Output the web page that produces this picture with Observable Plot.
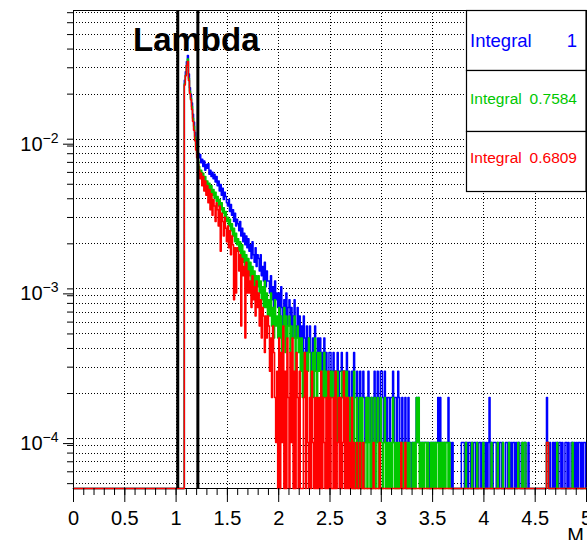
<!DOCTYPE html>
<html><head><meta charset="utf-8">
<script src="https://cdn.jsdelivr.net/npm/d3@7"></script>
<script src="https://cdn.jsdelivr.net/npm/@observablehq/plot@0.6"></script>
<style>
html,body{margin:0;padding:0;background:#fff;}
#chart{width:587px;height:540px;overflow:hidden;}
</style></head><body><div id="chart"></div>
<script>
// ---- data -------------------------------------------------------------
const BIN_START = 108;      // first filled bin, in hundredths of M (1.08)
const UNIT = 9.4e-5;        // weight of one entry (histograms normalised)
const Y_MIN = 4.64e-5, Y_MAX = 0.0724;
const X_MIN = 0, X_MAX = 5;
const windowEdges = [1.016, 1.212];
const majorXTicks = [0, 0.5, 1, 1.5, 2, 2.5, 3, 3.5, 4, 4.5, 5];
const gridX = [0.5, 1, 1.5, 2, 2.5, 3, 3.5, 4, 4.5];
const majorYTicks = [1e-4, 1e-3, 1e-2];
const yMantissas = [1, 2, 3, 4, 5, 6, 7, 8, 9];
const yDecades = [1e-5, 1e-4, 1e-3, 1e-2];
const titleText = "Lambda";
const axisTitle = "M";
const legendNames = ["Integral", "Integral", "Integral"];
const legendValues = ["1", "0.7584", "0.6809"];
const seriesColors = ["#0000ff", "#00c800", "#ff0000"];

const blueCounts = [263, 300,
350, 386, 290, 235, 212, 186, 156, 138, 118, 104,
92, 86, 80, 84, 74, 78, 70, 76, 66, 72,
68, 73, 62, 66, 60, 64, 58, 62, 55, 60,
52, 56, 48, 53, 45, 50, 42, 47, 44, 40,
38, 42, 35, 39, 33, 36, 30, 34, 28, 31,
29, 26, 30, 24, 27, 22, 25, 21, 24, 20,
23, 19, 21, 17, 22, 18, 16, 20, 15, 18,
17, 14, 18, 13, 15, 12, 16, 11, 14, 12,
12, 10, 13, 9, 11, 8, 12, 9, 10, 8,
10, 7, 11, 8, 6, 9, 7, 10, 6, 8,
9, 6, 8, 5, 7, 9, 5, 6, 8, 5,
7, 5, 6, 4, 7, 5, 3, 6, 4, 5,
6, 4, 3, 5, 4, 6, 3, 4, 5, 3,
5, 3, 4, 2, 5, 3, 4, 2, 3, 4,
4, 2, 3, 4, 2, 3, 1, 4, 2, 3,
3, 4, 2, 3, 3, 2, 4, 2, 3, 1,
2, 3, 1, 4, 2, 2, 3, 1, 2, 3,
1, 2, 3, 2, 1, 2, 1, 3, 2, 1,
2, 1, 2, 3, 1, 2, 3, 2, 1, 3,
3, 2, 1, 3, 2, 1, 2, 2, 1, 2,
2, 3, 1, 2, 2, 1, 3, 2, 1, 1,
2, 1, 1, 2, 0, 1, 2, 1, 1, 0,
1, 1, 1, 1, 2, 1, 2, 1, 1, 1,
1, 1, 1, 1, 1, 1, 1, 0, 1, 1,
1, 1, 1, 1, 1, 2, 1, 2, 1, 1,
1, 1, 1, 1, 1, 2, 1, 1, 0, 1,
0, 0, 0, 0, 0, 0, 0, 0, 1, 1,
1, 0, 1, 1, 0, 1, 1, 0, 1, 0,
1, 1, 0, 1, 0, 1, 1, 0, 1, 1,
1, 0, 1, 0, 1, 2, 0, 1, 0, 1,
1, 1, 0, 1, 0, 1, 1, 0, 1, 0,
0, 1, 1, 0, 1, 0, 1, 0, 1, 1,
0, 1, 0, 1, 1, 0, 0, 1, 0, 1,
1, 0, 0, 1, 0, 0, 0, 0, 0, 0,
0, 0, 0, 0, 0, 0, 0, 0, 0, 0,
0, 2, 1, 0, 1, 0, 0, 1, 0, 1,
0, 1, 0, 1, 1, 0, 1, 0, 0, 1,
1, 0, 1, 0, 0, 1, 1, 0, 1, 0,
1, 0, 1, 1, 0, 1, 0, 1, 1, 0];

const greenCounts = [250, 285,
330, 365, 272, 222, 200, 176, 147, 130, 110, 97,
84, 76, 70, 62, 66, 58, 63, 55, 60, 52,
56, 50, 54, 47, 52, 45, 49, 43, 47, 41,
44, 38, 42, 36, 40, 34, 37, 32, 35, 30,
32, 28, 31, 26, 29, 24, 27, 22, 25, 21,
23, 19, 22, 17, 21, 16, 19, 15, 18, 14,
17, 13, 16, 12, 15, 11, 14, 10, 13, 11,
13, 10, 12, 9, 11, 8, 12, 8, 10, 7,
9, 7, 10, 6, 8, 5, 9, 6, 7, 5,
8, 5, 7, 4, 6, 8, 4, 7, 5, 6,
7, 4, 6, 5, 5, 7, 3, 5, 6, 4,
5, 3, 5, 2, 4, 4, 2, 4, 3, 5,
4, 2, 3, 4, 2, 5, 3, 2, 4, 3,
4, 3, 3, 2, 4, 2, 3, 2, 3, 2,
3, 2, 3, 2, 2, 3, 1, 3, 2, 2,
2, 3, 2, 3, 3, 2, 3, 2, 2, 1,
2, 2, 0, 3, 0, 1, 2, 0, 1, 2,
0, 2, 1, 0, 1, 2, 0, 2, 1, 0,
2, 0, 1, 2, 0, 1, 2, 0, 1, 2,
1, 0, 1, 2, 0, 1, 0, 1, 0, 1,
0, 2, 1, 0, 1, 0, 1, 0, 1, 1,
1, 0, 1, 1, 0, 1, 0, 1, 0, 0,
1, 0, 1, 0, 2, 1, 2, 0, 1, 0,
1, 0, 1, 1, 0, 1, 0, 0, 1, 0,
1, 0, 1, 0, 1, 1, 0, 1, 0, 1,
0, 1, 0, 1, 1, 0, 1, 0, 0, 0,
0, 0, 0, 0, 0, 0, 0, 0, 0, 0,
0, 0, 1, 0, 0, 0, 0, 0, 1, 0,
0, 0, 0, 1, 0, 0, 0, 0, 0, 1,
0, 0, 0, 0, 0, 0, 0, 1, 0, 0,
0, 0, 0, 1, 0, 0, 0, 0, 1, 0,
0, 0, 0, 0, 1, 0, 0, 0, 0, 0,
0, 0, 0, 1, 0, 0, 0, 1, 0, 1,
1, 0, 0, 0, 0, 0, 0, 0, 0, 0,
0, 0, 0, 0, 0, 0, 0, 0, 0, 0,
0, 1, 1, 0, 0, 0, 0, 0, 0, 0,
0, 1, 0, 0, 0, 0, 0, 0, 0, 0,
0, 0, 0, 0, 0, 0, 1, 0, 0, 0,
0, 0, 0, 0, 0, 0, 0, 0, 0, 0];

const redCounts = [245, 282,
330, 352, 262, 215, 195, 168, 140, 122, 104, 90,
80, 72, 66, 58, 63, 52, 60, 48, 56, 45,
52, 40, 49, 36, 46, 33, 42, 38, 30, 40,
36, 28, 38, 19, 34, 30, 24, 32, 27, 22,
28, 20, 26, 18, 24, 21, 9, 20, 10, 20,
19, 14, 18, 6, 17, 13, 15, 5, 16, 10,
14, 10, 12, 8, 13, 9, 11, 7, 12, 8,
10, 6, 9, 5, 8, 7, 4, 7, 5, 7,
6, 3, 5, 2, 6, 4, 2, 1, 3, 0,
5, 0, 4, 1, 6, 0, 3, 0, 5, 2,
0, 4, 1, 5, 0, 3, 0, 4, 2, 0,
3, 0, 0, 0, 2, 4, 0, 3, 1, 0,
2, 0, 3, 1, 0, 2, 0, 2, 0, 2,
0, 3, 0, 2, 1, 0, 2, 0, 3, 0,
2, 0, 0, 2, 0, 3, 0, 1, 2, 0,
2, 0, 1, 3, 0, 2, 0, 2, 0, 1,
0, 2, 0, 1, 0, 0, 1, 0, 0, 1,
0, 0, 1, 0, 0, 0, 0, 0, 0, 0,
0, 0, 1, 0, 0, 0, 0, 0, 1, 0,
0, 0, 0, 0, 0, 0, 0, 0, 0, 0,
0, 0, 0, 0, 0, 0, 0, 0, 0, 1,
0, 0, 0, 1, 0, 0, 0, 0, 0, 0,
0, 0, 0, 0, 0, 0, 0, 0, 0, 0,
0, 0, 0, 0, 0, 0, 0, 0, 0, 0,
0, 0, 0, 0, 0, 0, 0, 0, 0, 0,
0, 0, 0, 0, 0, 0, 0, 0, 0, 0,
0, 0, 0, 0, 0, 0, 0, 0, 0, 0,
0, 0, 0, 0, 0, 0, 0, 0, 0, 0,
0, 0, 0, 0, 0, 0, 0, 0, 0, 0,
0, 0, 0, 0, 0, 0, 0, 0, 0, 0,
0, 0, 0, 0, 0, 0, 0, 0, 0, 0,
0, 0, 0, 0, 0, 0, 0, 0, 0, 0,
0, 0, 0, 0, 0, 0, 0, 0, 0, 0,
0, 0, 0, 0, 0, 0, 0, 0, 0, 0,
0, 0, 0, 0, 0, 0, 0, 0, 0, 0,
0, 1, 1, 0, 0, 0, 0, 0, 0, 0,
0, 0, 0, 0, 0, 0, 0, 0, 0, 0,
0, 0, 0, 0, 0, 0, 0, 0, 0, 0,
0, 0, 0, 0, 0, 0, 0, 0, 0, 0];

// ---- build step series ---------------------------------------------------
function stepSeries(counts) {
  const val = c => (c > 0 ? c * UNIT : Y_MIN);
  const pts = [{x: X_MIN, y: Y_MIN}];
  counts.forEach((c, i) => pts.push({x: (BIN_START + i) / 100, y: val(c)}));
  pts.push({x: X_MAX, y: val(counts[counts.length - 1])});
  return pts;
}
const minorXTicks = d3.range(0, 51).map(i => i / 10);
const minorYTicks = yDecades.flatMap(d => yMantissas.map(m => m * d))
  .filter(v => v >= Y_MIN && v <= Y_MAX);

const FONT = "'Liberation Sans', Arial, Helvetica, sans-serif";
const lineOpts = color => ({x: "x", y: "y", curve: "step-after", stroke: color,
  strokeWidth: 1.5});
const gridOpts = {stroke: "black", strokeWidth: 1, strokeDasharray: "1,2", shapeRendering: "crispEdges"};

const svg = Plot.plot({
  width: 587, height: 540,
  marginLeft: 73, marginRight: 1, marginTop: 10, marginBottom: 52,
  style: {fontFamily: FONT, background: "white", color: "black"},
  x: {domain: [X_MIN, X_MAX]},
  y: {type: "log", domain: [Y_MIN, Y_MAX]},
  marks: [
    Plot.ruleY(minorYTicks, gridOpts),
    Plot.ruleX(gridX, gridOpts),
    Plot.frame({stroke: "black", strokeWidth: 1}),
    Plot.line(stepSeries(blueCounts), lineOpts(seriesColors[0])),
    Plot.line(stepSeries(greenCounts), lineOpts(seriesColors[1])),
    Plot.line(stepSeries(redCounts), lineOpts(seriesColors[2])),
    Plot.ruleX(windowEdges, {stroke: "black", strokeWidth: 3}),
    Plot.axisX({ticks: minorXTicks, tickSize: 7, tickFormat: () => "", label: null}),
    Plot.axisX({ticks: majorXTicks, tickSize: 14, tickPadding: 8, fontSize: 20, label: null,
      tickFormat: d => String(d)}),
    Plot.axisY({ticks: minorYTicks, tickSize: 6, tickFormat: () => "", label: null}),
    Plot.axisY({ticks: majorYTicks, tickSize: 10, tickPadding: 5, fontSize: 20, dy: 5, label: null,
      tickFormat: d => "10^" + Math.round(Math.log10(d))})
  ]
});

// superscript exponent labels
d3.select(svg).selectAll("text").each(function() {
  const t = this.textContent;
  const m = /^10\^(-?\d+)$/.exec(t);
  if (!m) return;
  const sel = d3.select(this);
  sel.text(null);
  sel.append("tspan").text("10");
  sel.append("tspan").attr("dy", -8).attr("font-size", 14).text(m[1].replace("-", "\u2212"));
});

const s = d3.select(svg);
// title
s.append("text").attr("x", 133).attr("y", 51).attr("text-anchor", "start").attr("font-family", FONT)
  .attr("font-weight", "bold").attr("font-size", 33).attr("fill", "black").text(titleText);
// axis title
s.append("text").attr("x", 584).attr("y", 542).attr("text-anchor", "end")
  .attr("font-family", FONT).attr("font-size", 20).attr("fill", "black").text(axisTitle);
// stats boxes
const boxes = [
  {y0: 10, y1: 70, base: 47, fs: 18.5},
  {y0: 70, y1: 131, base: 104, fs: 15.5},
  {y0: 131, y1: 191, base: 163, fs: 15.5}
];
const lg = s.append("g");
boxes.forEach((b, i) => {
  lg.append("rect").attr("x", 466.5).attr("y", b.y0 + 0.5).attr("width", 119.5)
    .attr("height", b.y1 - b.y0).attr("fill", "white").attr("stroke", "black").attr("stroke-width", 1.2);
  lg.append("text").attr("x", 470).attr("y", b.base).attr("text-anchor", "start").attr("font-family", FONT)
    .attr("font-size", b.fs).attr("fill", seriesColors[i]).text(legendNames[i]);
  lg.append("text").attr("x", 577).attr("y", b.base).attr("text-anchor", "end")
    .attr("font-family", FONT).attr("font-size", b.fs).attr("fill", seriesColors[i]).text(legendValues[i]);
});

document.getElementById("chart").appendChild(svg);
</script></body></html>
